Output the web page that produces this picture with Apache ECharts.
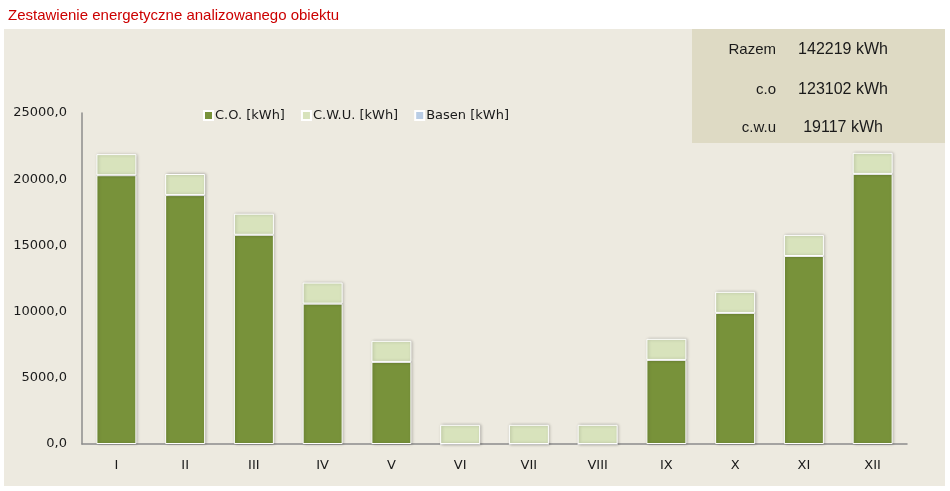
<!DOCTYPE html>
<html>
<head>
<meta charset="utf-8">
<script src="https://cdn.jsdelivr.net/npm/echarts@6/dist/echarts.min.js"></script>
<style>
html,body{margin:0;padding:0;background:#fff;}
#c{width:950px;height:491px;}
</style>
</head>
<body>
<div id="c"></div>
<script>
const titleText = 'Zestawienie energetyczne analizowanego obiektu';
const months = ['I','II','III','IV','V','VI','VII','VIII','IX','X','XI','XII'];
const coValues = [20300, 18800, 15800, 10600, 6200, 0, 0, 0, 6350, 9900, 14200, 20400];
const cwuValues = [1593, 1593, 1593, 1593, 1593, 1450, 1450, 1450, 1593, 1593, 1593, 1594];
const basenValues = [];
const seriesNames = ['C.O. [kWh]', 'C.W.U. [kWh]', 'Basen [kWh]'];
const tableLabels = ['Razem', 'c.o', 'c.w.u'];
const tableValues = ['142219 kWh', '123102 kWh', '19117 kWh'];

const chart = echarts.init(document.getElementById('c'));
const axisFont = 'DejaVu Sans';
const barShadow = {borderColor:'#ffffff', borderWidth:1, shadowBlur:3, shadowColor:'rgba(0,0,0,0.25)', shadowOffsetX:1, shadowOffsetY:0};

const tableGraphics = [];
const rowY = [50, 90, 128];
tableLabels.forEach((t, i) => {
  tableGraphics.push({type:'text', x:776, y:rowY[i], z:10,
    style:{text:t, fill:'#1a1a1a', font:'15px "Liberation Sans", Arial', textAlign:'right', textVerticalAlign:'middle'}});
  tableGraphics.push({type:'text', x:843, y:rowY[i], z:10,
    style:{text:tableValues[i], fill:'#1a1a1a', font:'16px "Liberation Sans", Arial', textAlign:'center', textVerticalAlign:'middle'}});
});

chart.setOption({
  animation:false,
  backgroundColor:'#ffffff',
  title:{text:titleText, left:3, top:3,
    textStyle:{color:'#cc0000', fontFamily:'"Liberation Sans", Arial', fontSize:15, fontWeight:'normal'}},
  graphic:[
    {type:'rect', z:-10, shape:{x:4, y:29, width:941, height:457}, style:{fill:'#edeae0'}, silent:true},
    {type:'rect', z:-9, shape:{x:692, y:29, width:253, height:114}, style:{fill:'#dedac4'}, silent:true}
  ].concat(tableGraphics),
  legend:{
    data:seriesNames, left:198, top:104, itemWidth:9, itemHeight:9, itemGap:16,
    icon:'rect',
    textStyle:{fontFamily:axisFont, fontSize:13, color:'#1a1a1a', padding:[0,0,0,-3]}
  },
  grid:{left:82, right:43, top:113, bottom:47},
  xAxis:{
    type:'category', data:months,
    axisLine:{lineStyle:{color:'#8c8c8c', width:1.5}},
    axisTick:{show:false},
    axisLabel:{color:'#1a1a1a', fontFamily:axisFont, fontSize:13, margin:15}
  },
  yAxis:{
    type:'value', min:0, max:25000, interval:5000,
    axisLine:{show:true, lineStyle:{color:'#8c8c8c', width:1.5}},
    axisTick:{show:false},
    splitLine:{show:false},
    axisLabel:{color:'#1a1a1a', fontFamily:axisFont, fontSize:13, margin:15,
      formatter:v => v.toFixed(1).replace('.', ',')}
  },
  series:[
    {name:seriesNames[0], type:'bar', stack:'t', data:coValues, barWidth:40,
      itemStyle:Object.assign({color:'#78923a'}, barShadow)},
    {name:seriesNames[1], type:'bar', stack:'t', data:cwuValues, barWidth:40,
      itemStyle:Object.assign({color:'#d8e3bc'}, barShadow)},
    {name:seriesNames[2], type:'bar', stack:'t', data:basenValues, barWidth:40,
      itemStyle:Object.assign({color:'#b9cde5'}, barShadow)}
  ]
});
</script>
</body>
</html>
